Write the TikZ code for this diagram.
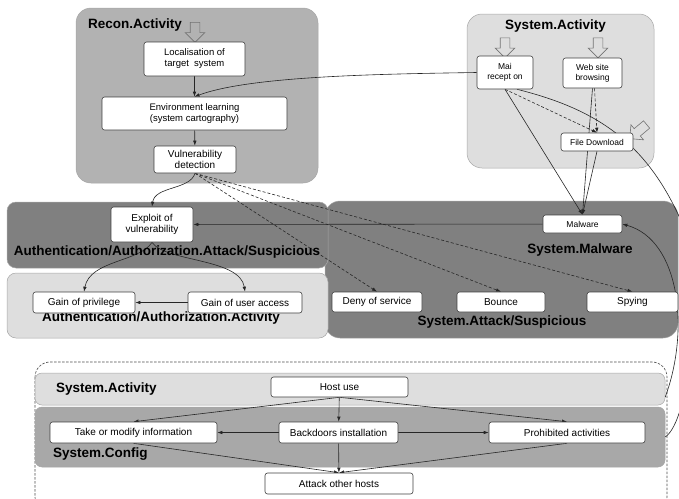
\documentclass[tikz,border=0pt]{standalone}
\usepackage{fontspec}
\setmainfont{Liberation Sans}
\usetikzlibrary{arrows.meta}
\usetikzlibrary{shapes.arrows}
\pgfdeclarelayer{back}
\pgfsetlayers{back,main}
\definecolor{midshade}{gray}{0.70}
\definecolor{paleshade}{gray}{0.87}
\definecolor{darkshade}{gray}{0.50}
\definecolor{confshade}{gray}{0.66}
\tikzset{
   region/.style={draw=black!35, line width=0.5pt, rounded corners=#1, inner sep=0pt},
   region/.default=12pt,
   box/.style={draw=black!75, fill=white, line width=0.6pt, rounded corners=2.5pt,
      align=center, inner sep=1pt, font=\fontsize{10}{11.5}\selectfont},
   small box/.style={box, font=\fontsize{8.5}{10}\selectfont},
   tag/.style={inner sep=0pt, font=\fontsize{13.5}{15}\selectfont\bfseries},
   link/.style={draw=black!85, line width=0.6pt, -{Latex[length=5pt,width=3.5pt]}},
   dlink/.style={link, dash pattern=on 3pt off 2pt},
   feed/.style={single arrow, draw=black!55, line width=0.6pt, inner sep=4.5pt,
      minimum height=20pt, single arrow head extend=5pt, rotate=#1},
   feed/.default=-90,
}

\begin{document}
\begin{tikzpicture}[x=1pt,y=-1pt]
\useasboundingbox (0,0) rectangle (679,498);

\begin{pgfonlayer}{back}
\clip (0,0) rectangle (679,498);
\node[region=15pt, fill=midshade, minimum width=242pt, minimum height=175pt] (recon) at (197,95.5) {};
\node[region=15pt, fill=paleshade, minimum width=187pt, minimum height=154pt] (sysup) at (560.5,91) {};
\node[region=15pt, fill=darkshade, minimum width=353pt, minimum height=137pt] (sysreg) at (501.5,269.5) {};
\node[region=9pt, fill=darkshade, minimum width=321pt, minimum height=66pt] (authatk) at (167.5,235) {};
\node[region=9pt, fill=paleshade, minimum width=321pt, minimum height=65pt] (authact) at (167.5,305.5) {};
\draw[black!70, line width=0.6pt, dash pattern=on 2.5pt off 1.5pt, rounded corners=15pt] (35,362) rectangle (667,512);
\node[region=7pt, fill=paleshade, minimum width=630pt, minimum height=32pt] (sysact) at (350,389) {};
\node[region=7pt, fill=confshade, minimum width=630pt, minimum height=60pt] (sysconf) at (350,437) {};
\end{pgfonlayer}

% group names
\node[tag, anchor=west] (tRecon) at (88,25) {Recon.Activity};
\node[tag] (tSysUp) at (555.5,26) {System.Activity};
\node[tag] (tAuthAtk) at (167,252) {Authentication/Authorization.Attack/Suspicious};
\node[tag] (tAuthAct) at (161,318) {Authentication/Authorization.Activity};
\node[tag] (tMalware) at (580,250) {System.Malware};
\node[tag] (tSysAtk) at (502,322) {System.Attack/Suspicious};
\node[tag, anchor=west] (tSysAct) at (56,389) {System.Activity};
\node[tag, anchor=west] (tSysConf) at (53,454) {System.Config};

% external inputs
\node[feed] (inRecon) at (195,30) {};
\node[feed] (inMail) at (505,45.5) {};
\node[feed] (inWeb) at (598,45.5) {};
\node[feed=-140, minimum height=22pt] (inFile) at (640,130) {};

\node[box, font=\fontsize{9.5}{11}\selectfont, minimum width=101pt, minimum height=34pt] (loc) at (194.5,59) {Localisation of\\target~ system};
\node[box, font=\fontsize{9.5}{11}\selectfont, minimum width=185pt, minimum height=33pt] (env) at (194.5,113.5) {Environment learning\\(system cartography)};
\node[box, minimum width=82pt, minimum height=27pt] (vuln) at (195,159.5) {Vulnerability\\detection};

\node[small box, minimum width=56pt, minimum height=33pt] (mail) at (505,72.5) {Mai\\recept on};
\node[small box, minimum width=59pt, minimum height=30pt] (web) at (592.5,73) {Web site\\browsing};
\node[small box, minimum width=72pt, minimum height=18pt] (file) at (597,142) {File Download};

\node[box, minimum width=82pt, minimum height=35pt] (exploit) at (152,224.5) {Exploit of\\vulnerability};
\node[box, minimum width=102pt, minimum height=21pt] (gpriv) at (84,302.5) {Gain of privilege};
\node[box, minimum width=114pt, minimum height=21pt] (guser) at (245,302.5) {Gain of user access};

\node[small box, minimum width=79pt, minimum height=18pt] (malware) at (582.5,224) {Malware};
\node[box, minimum width=90pt, minimum height=20pt] (deny) at (377,302) {Deny of service};
\node[box, minimum width=88pt, minimum height=20pt] (bounce) at (501,302) {Bounce};
\node[box, minimum width=91pt, minimum height=20pt] (spy) at (632.5,302) {Spying};

\node[box, minimum width=137pt, minimum height=20pt] (host) at (339.5,387) {Host use};
\node[box, minimum width=167pt, minimum height=21pt] (take) at (133.5,432.5) {Take or modify information};
\node[box, minimum width=119pt, minimum height=21pt] (backdoor) at (338.5,432.5) {Backdoors installation};
\node[box, minimum width=156pt, minimum height=21pt] (prohib) at (567,432.5) {Prohibited activities};
\node[box, minimum width=148pt, minimum height=21pt] (attack) at (339,483.5) {Attack other hosts};

\begin{pgfonlayer}{back}
\clip (0,0) rectangle (679,498);
\draw[link] (loc) -- (env);
\draw[link] (env) -- (vuln);
\draw[link] (mail.west) .. controls (380,74) and (250,76) .. (env.north);
\draw[link] (vuln.south) .. controls (190,190) and (155,186) .. (exploit.north);
\draw[dlink] (vuln.south) -- (deny.north);
\draw[dlink] (vuln.south) -- (bounce.north);
\draw[dlink] (vuln.south) -- (spy.north);
\draw[link] (exploit.south) .. controls (140,262) and (90,260) .. (gpriv.north);
\draw[link] (exploit.south) .. controls (165,262) and (240,258) .. (guser.north);
\draw[link] (guser) -- (gpriv);
\draw[link] (malware) -- (exploit);

\draw[link] (mail.south) -- (malware.north);
\draw[dlink] (mail.south) -- (file.north);
\draw[dlink] ([xshift=2pt]web.south) -- (file.north);
\draw[link] (web.south) -- (malware.north);
\draw[link] (file.south) -- (malware.north);
\draw[draw=black!85, line width=0.6pt] ([xshift=12pt]mail.south) .. controls (600,110) and (650,145) .. (685,230)
   .. controls (700,300) and (690,420) .. (sysconf.east);
\draw[link] ([yshift=-8pt]sysact.east) .. controls (690,330) and (680,240) .. (malware.east);

\draw[link] (host) -- (backdoor);
\draw[link] (host.south) -- (take.north);
\draw[link] (host.south) -- (prohib.north);
\draw[link] (backdoor) -- (take);
\draw[link] (backdoor) -- (prohib);
\draw[link] (backdoor) -- (attack);
\draw[link] (take.south) -- (attack.north);
\draw[link] (prohib.south) -- (attack.north);
\end{pgfonlayer}
\end{tikzpicture}
\end{document}
